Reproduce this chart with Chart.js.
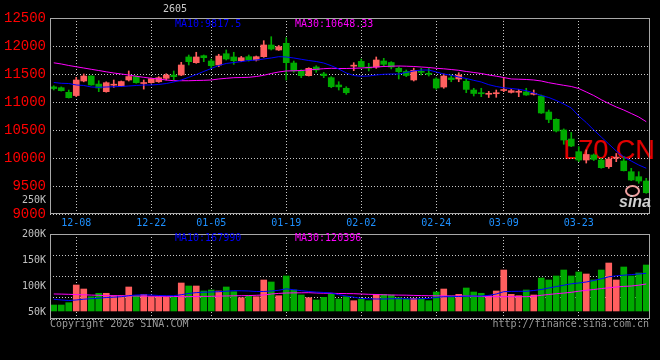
<!DOCTYPE html>
<html><head><meta charset="utf-8">
<script src="https://cdn.jsdelivr.net/npm/chart.js@4/dist/chart.umd.min.js"></script>
<style>
html,body{margin:0;padding:0;background:#000;width:660px;height:360px;overflow:hidden;}
#wrap{position:relative;width:660px;height:360px;}
canvas{position:absolute;left:0;z-index:1;}
#pc{top:0;}
#vc{top:224px;}
.t{position:absolute;font:10px/10px "DejaVu Sans Mono",monospace;white-space:pre;z-index:2;}
#wm{position:absolute;left:563px;top:137px;font:27px/27px "Liberation Sans",Arial,sans-serif;color:#e00000;z-index:0;white-space:pre;}
#eye{position:absolute;left:625px;top:185px;width:11px;height:8px;border:2px solid #f0a0a0;border-radius:50%;z-index:2;}
#sina{position:absolute;left:619px;top:194px;font:italic bold 16px/16px "Liberation Sans",Arial,sans-serif;color:#d0d0d0;z-index:2;}
</style></head>
<body><div id="wrap">
<div id="wm">L70.CN</div>
<canvas id="pc" width="660" height="232"></canvas>
<canvas id="vc" width="660" height="108"></canvas>
<div class="t" style="left:163px;top:4px;color:#cccccc">2605</div>
<div class="t" id="pl10" style="left:175px;top:19px;color:#0000ff"></div>
<div class="t" id="pl30" style="left:295px;top:19px;color:#ff00ff"></div>
<div class="t" id="vl10" style="left:175px;top:233px;color:#0000ff"></div>
<div class="t" id="vl30" style="left:295px;top:233px;color:#ff00ff"></div>
<div class="t" style="left:50px;top:319px;color:#999999">Copyright 2026 SINA.COM</div>
<div class="t" style="right:11px;top:319px;color:#999999">http://finance.sina.com.cn</div>
<div id="eye"></div>
<div id="sina">sina</div>
</div>
<script>
const DATES = ['12-03','12-04','12-05','12-08','12-09','12-10','12-11','12-12','12-15','12-16','12-17','12-18','12-19','12-22','12-23','12-24','12-25','12-26','12-29','12-30','12-31',
'01-05','01-06','01-07','01-08','01-09','01-12','01-13','01-14','01-15','01-16','01-19','01-20','01-21','01-22','01-23','01-26','01-27','01-28','01-29','01-30',
'02-02','02-03','02-04','02-05','02-06','02-09','02-10','02-11','02-12','02-13','02-24','02-25','02-26','02-27',
'03-02','03-03','03-04','03-05','03-06','03-09','03-10','03-11','03-12','03-13','03-16','03-17','03-18','03-19','03-20','03-23','03-24','03-25','03-26','03-27','03-30','03-31',
'04-01','04-02','04-03'];
const DATE_TICKS = ['12-08','12-22','01-05','01-19','02-02','02-24','03-09','03-23'];

const OPEN  = [11270,11255,11173,11115,11375,11464,11320,11184,11300,11286,11393,11455,11330,11345,11362,11423,11482,11482,11804,11702,
11827,11732,11661,11862,11804,11737,11809,11750,11809,12018,11929,12048,11696,11554,11470,11625,11500,11434,11304,11245,
11640,11725,11620,11625,11732,11705,11601,11545,11393,11545,11510,11411,11267,11430,11411,11370,11214,11158,11138,11148,
11205,11172,11174,11180,11138,11107,10821,10691,10500,10339,10113,9964,10054,9964,9845,9998,9946,9755,9666,9589];
const HIGH  = [11290,11270,11214,11441,11500,11470,11380,11360,11393,11375,11554,11470,11393,11430,11452,11505,11554,11709,11839,11888,
11839,11768,11852,11929,11888,11815,11839,11821,12095,12166,12010,12148,11732,11576,11612,11648,11530,11452,11362,11273,
11702,11768,11691,11804,11780,11720,11630,11571,11605,11601,11601,11434,11500,11482,11523,11411,11245,11245,11190,11214,
11441,11225,11227,11245,11214,11125,10857,10700,10520,10459,10202,10143,10072,9991,10013,10080,10024,9816,9755,9637];
const LOW   = [11215,11195,11070,11095,11360,11300,11184,11175,11262,11280,11375,11335,11230,11335,11350,11393,11393,11470,11661,11691,
11720,11601,11630,11750,11673,11720,11730,11732,11798,11929,11920,11393,11530,11434,11464,11530,11434,11255,11214,11137,
11559,11625,11554,11601,11630,11590,11411,11452,11375,11482,11464,11227,11245,11362,11362,11166,11107,11095,11080,11084,
11184,11160,11095,11118,11125,10795,10630,10465,10245,10202,9934,9910,9955,9816,9816,9934,9768,9596,9548,9370];
const CLOSE = [11240,11202,11077,11393,11464,11304,11250,11345,11310,11365,11455,11345,11340,11415,11434,11482,11452,11661,11720,11804,
11791,11648,11821,11768,11737,11791,11750,11809,12018,11946,11988,11702,11554,11470,11601,11571,11470,11273,11270,11166,
11655,11630,11605,11750,11673,11625,11541,11473,11565,11530,11495,11250,11464,11400,11482,11225,11152,11148,11148,11158,
11222,11202,11182,11125,11148,10804,10688,10482,10321,10214,9964,10063,9975,9827,9982,10010,9773,9607,9589,9380];

const MA10 = [11348,11334,11330,11304,11295,11268,11262,11268,11273,11277,11286,11295,11304,11304,11313,11330,11357,11393,11441,11491,
11545,11598,11652,11688,11705,11720,11741,11750,11768,11786,11809,11804,11786,11763,11741,11723,11696,11648,11589,11518,
11473,11459,11464,11482,11495,11500,11500,11527,11554,11571,11571,11536,11500,11477,11446,11420,11387,11357,11309,11277,
11254,11241,11227,11202,11161,11116,11080,11027,10964,10893,10750,10634,10500,10375,10250,10125,10018,9946,9875,9817.5];
const MA30 = [11700,11679,11652,11629,11607,11584,11562,11539,11518,11500,11482,11459,11441,11423,11411,11393,11380,11380,11380,11384,
11387,11393,11411,11423,11434,11437,11441,11455,11477,11509,11536,11554,11557,11562,11575,11584,11595,11602,11598,11598,
11602,11607,11616,11625,11634,11639,11643,11639,11634,11625,11616,11602,11593,11580,11566,11545,11527,11509,11482,11461,
11437,11411,11407,11402,11393,11375,11345,11321,11298,11277,11241,11179,11116,11041,10973,10911,10857,10795,10732,10648.33];

const VOLUME = [26700,26700,37000,115900,98000,63700,78900,78900,68200,68200,107000,68200,74400,63700,63700,63700,63700,124800,111400,111400,
89100,93600,89100,107000,86000,59300,68200,63700,138200,129300,68200,156000,93600,71300,59300,49000,61000,75800,53500,63700,
45900,52100,45900,74400,74400,71300,59300,53500,56600,53500,45900,84700,98000,66900,74400,102500,84700,78900,68200,89100,
182700,74400,68200,93600,71300,147100,138200,156000,182700,156000,173800,164900,138200,182700,213900,138200,196100,156000,169400,205000];
const VOL_MA10 = [52600,49000,46800,49000,52600,54800,57000,60200,61500,63700,68200,71300,72200,71300,69100,68200,68200,72600,78000,82000,
83800,84700,86000,88200,90500,90000,89100,86900,86900,89100,92300,98900,94500,90500,86900,84200,82500,80700,72600,66900,
61500,56200,54400,53500,53500,54400,54800,54400,53500,54800,56200,60200,63700,63700,64600,66000,66900,66900,69500,75800,
86000,87400,87800,87800,91400,95800,102500,108800,115000,121200,124800,129300,135900,143500,152400,156900,159600,162200,164900,167990];
const VOL_MA30 = [75800,75300,74400,73100,72200,70900,70000,68600,68200,67700,67300,66900,66400,66000,65500,65100,64600,64200,63700,64600,
65100,65500,66400,66900,67700,68200,68600,70000,71300,75800,78400,80200,80700,81100,81600,80200,79300,78900,78000,77500,
77100,75800,74400,73500,72200,71300,70900,70400,69500,68600,68200,67700,67300,66900,66900,66900,66000,64600,63700,63700,
63700,63700,63700,63700,65500,70000,73500,77100,79800,83300,88200,92300,95800,99800,103400,107000,109600,111400,115000,120396];

const PRICE_TICKS = [9000,9250,9500,10000,10500,11000,11500,12000,12500];
const PRICE_TICK_LABELS = ['9000','250K','9500','10000','10500','11000','11500','12000','12500'];
const VOL_TICKS = [50000,100000,150000,200000];
const VOL_TICK_LABELS = ['50K','100K','150K','200K'];

const RED = '#ff5f5f', GREEN = '#00aa00', GRID = '#c8c8c8', FRAME = '#a8a8a8';
const MONO = '"DejaVu Sans Mono", monospace';
const candleColor = i => CLOSE[i] >= OPEN[i] ? RED : GREEN;
const isTickDate = i => DATE_TICKS.includes(DATES[i]);

document.getElementById('pl10').textContent = 'MA10:' + MA10[MA10.length-1];
document.getElementById('pl30').textContent = 'MA30:' + MA30[MA30.length-1];
document.getElementById('vl10').textContent = 'MA10:' + VOL_MA10[VOL_MA10.length-1];
document.getElementById('vl30').textContent = 'MA30:' + VOL_MA30[VOL_MA30.length-1];

const frame = {
  id: 'frame',
  afterDraw(chart) {
    const {ctx, chartArea: a} = chart;
    ctx.save();
    ctx.strokeStyle = FRAME; ctx.lineWidth = 1;
    ctx.strokeRect(Math.round(a.left)+0.5, Math.round(a.top)+0.5, Math.round(a.right-a.left)-1, Math.round(a.bottom-a.top)-1);
    ctx.restore();
  }
};

const lineDs = (data, color) => ({type:'line', data, borderColor:color, borderWidth:1, pointRadius:0, tension:0, order:0, fill:false});

const xAxis = (showLabels, h) => ({
  offset: true,
  grid: {offset:false, drawTicks:false, color: c => isTickDate(c.index) ? GRID : 'transparent'},
  border: {display:false, dash:[1,2]},
  ticks: {display: showLabels, autoSkip:false, maxRotation:0, minRotation:0, padding:3, color:'#1e90ff',
          font:{family:MONO, size:10}, callback:(v,i) => isTickDate(i) ? DATES[i] : ''},
  afterFit: s => { s.height = h; }
});

new Chart(document.getElementById('pc'), {
  type: 'bar',
  data: {
    labels: DATES,
    datasets: [
      lineDs(MA10, '#0000ff'),
      lineDs(MA30, '#ff00ff'),
      {data: DATES.map((d,i) => [OPEN[i], CLOSE[i]]), backgroundColor: c => candleColor(c.dataIndex), barThickness:6, minBarLength:1, grouped:false, order:1},
      {data: DATES.map((d,i) => [LOW[i], HIGH[i]]), backgroundColor: c => candleColor(c.dataIndex), barThickness:1, grouped:false, order:2}
    ]
  },
  options: {
    responsive:false, animation:false, events:[],
    layout:{padding:{left:0, right:10, top:18, bottom:0}},
    plugins:{legend:{display:false}, tooltip:{enabled:false}},
    scales:{
      x: xAxis(true, 18),
      y: {
        min:9000, max:12500,
        afterBuildTicks: s => { s.ticks = PRICE_TICKS.map(v => ({value:v})); },
        afterFit: s => { s.width = 50; },
        grid: {drawTicks:false, color: c => PRICE_TICK_LABELS[c.index] === '250K' ? 'transparent' : GRID},
        border: {display:false, dash:[1,2]},
        ticks: {
          padding:4,
          color: c => PRICE_TICK_LABELS[c.index] === '250K' ? '#c0c0c0' : '#ff0000',
          font: c => PRICE_TICK_LABELS[c.index] === '250K' ? {family:MONO, size:10} : {family:'"Liberation Mono", monospace', size:14},
          callback: (v,i) => PRICE_TICK_LABELS[i]
        }
      }
    }
  },
  plugins:[frame]
});

new Chart(document.getElementById('vc'), {
  type: 'bar',
  data: {
    labels: DATES,
    datasets: [
      lineDs(VOL_MA10, '#0000ff'),
      lineDs(VOL_MA30, '#ff00ff'),
      {data: VOLUME, backgroundColor: c => candleColor(c.dataIndex), barThickness:6, grouped:false, order:1}
    ]
  },
  options: {
    responsive:false, animation:false, events:[],
    layout:{padding:{left:0, right:10, top:10, bottom:0}},
    plugins:{legend:{display:false}, tooltip:{enabled:false}},
    scales:{
      x: xAxis(false, 13),
      y: {
        position:'left', weight:0, min:-35700, max:343200,
        afterBuildTicks: s => { const st = (s.max - s.min) / 4; s.ticks = [0,1,2,3,4].map(k => ({value: s.min + k*st})); },
        afterFit: s => { s.width = 0; },
        grid: {drawTicks:false, color:GRID},
        border: {display:false, dash:[1,2]},
        ticks: {display:false}
      },
      yl: {
        position:'left', weight:1, min:38000, max:200000,
        afterBuildTicks: s => { s.ticks = VOL_TICKS.map(v => ({value:v})); },
        afterFit: s => { s.width = 50; },
        grid: {display:false, drawTicks:false},
        border: {display:false},
        ticks: {padding:4, color:'#c0c0c0', font:{family:MONO, size:10}, callback:(v,i) => VOL_TICK_LABELS[i]}
      }
    }
  },
  plugins:[frame]
});
</script>
</body></html>
